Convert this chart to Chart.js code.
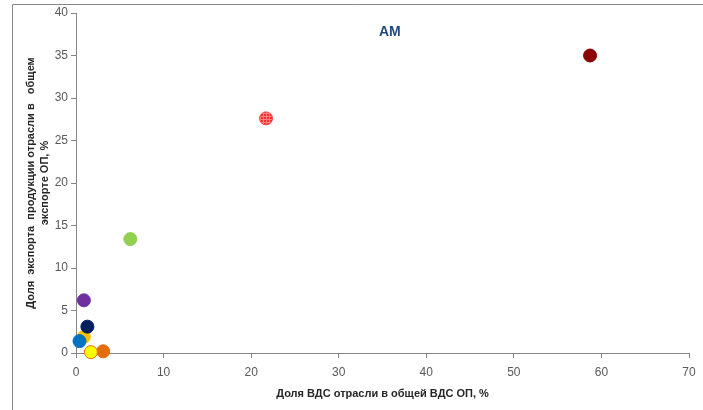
<!DOCTYPE html>
<html>
<head>
<meta charset="utf-8">
<script src="https://cdn.jsdelivr.net/npm/chart.js@4"></script>
<style>
  html, body { margin: 0; padding: 0; background: #fff; }
  #wrap { width: 703px; height: 410px; position: relative; }
</style>
</head>
<body>
<div id="wrap"><canvas id="am-chart" width="703" height="410"></canvas></div>
<script>
// share of sector GVA in total GVA, % (x) and share of sector exports, % (y)
const vdsShare    = [0.9, 1.3, 0.4, 0.9, 6.2, 21.7, 58.7, 3.1, 1.7];
const exportShare = [1.9, 3.1, 1.4, 6.2, 13.4, 27.6, 35.0, 0.2, 0.1];
const fillColors  = ['#FFC000', '#002060', '#0070C0', '#7030A0', '#92D050', 'pattern', '#8B0000', '#E46C0A', '#FFFF00'];
const edgeColors  = ['#FFC000', '#002060', '#0070C0', '#7030A0', '#92D050', '#FF4040', '#8B0000', '#E46C0A', '#E46C0A'];
const xTicks = [0, 10, 20, 30, 40, 50, 60, 70];
const yTicks = [0, 5, 10, 15, 20, 25, 30, 35, 40];

// dotted red fill for the one patterned marker
function redPattern() {
  const c = document.createElement('canvas');
  c.width = 3; c.height = 3;
  const g = c.getContext('2d');
  g.fillStyle = '#FF8080';
  g.fillRect(0, 0, 3, 3);
  g.fillStyle = '#FF3030';
  g.fillRect(0, 0, 2, 2);
  return g.createPattern(c, 'repeat');
}

const frameAndTitle = {
  id: 'frameAndTitle',
  afterDraw: (chart) => {
    const {ctx, chartArea} = chart;
    ctx.save();
    ctx.strokeStyle = '#868686';
    ctx.lineWidth = 1;
    ctx.beginPath();
    ctx.moveTo(12.5, 410);
    ctx.lineTo(12.5, 4.5);
    ctx.lineTo(703, 4.5);
    ctx.stroke();
    ctx.font = 'bold 14px "Liberation Sans", sans-serif';
    ctx.fillStyle = '#1F497D';
    ctx.textAlign = 'center';
    ctx.textBaseline = 'middle';
    ctx.fillText('АМ', chartArea.left + (chartArea.right - chartArea.left) * 0.512, chartArea.top + 19);
    ctx.restore();
  }
};

const ctx = document.getElementById('am-chart').getContext('2d');
const pts = vdsShare.map((v, i) => ({ x: v, y: exportShare[i] }));

new Chart(ctx, {
  type: 'scatter',
  data: {
    datasets: [{
      data: pts,
      backgroundColor: fillColors.map(c => c === 'pattern' ? redPattern() : c),
      borderColor: edgeColors,
      borderWidth: 1,
      pointRadius: 6.5,
      pointHoverRadius: 6.5,
      clip: false
    }]
  },
  options: {
    responsive: false,
    animation: false,
    layout: { padding: { left: 24, top: 13, right: 14, bottom: 5 } },
    plugins: {
      legend: { display: false },
      tooltip: { enabled: false }
    },
    scales: {
      x: {
        type: 'linear',
        min: 0, max: 70,
        afterBuildTicks: (s) => { s.ticks = xTicks.map(v => ({ value: v })); },
        afterFit: (s) => { s.height = 52; },
        border: { color: '#868686' },
        grid: { drawOnChartArea: false, drawTicks: true, tickLength: 5, color: '#868686' },
        ticks: { color: '#595959', font: { family: '"Liberation Sans", sans-serif', size: 12 }, padding: 7 },
        title: {
          display: true,
          text: 'Доля ВДС отрасли в общей ВДС ОП, %',
          color: '#262626',
          font: { family: '"Liberation Sans", sans-serif', size: 11, weight: 'bold' },
          padding: { top: 3 }
        }
      },
      y: {
        min: 0, max: 40,
        afterBuildTicks: (s) => { s.ticks = yTicks.map(v => ({ value: v })); },
        afterFit: (s) => { s.width = 52; },
        border: { color: '#868686' },
        grid: { drawOnChartArea: false, drawTicks: true, tickLength: 5, color: '#868686' },
        ticks: { color: '#595959', font: { family: '"Liberation Sans", sans-serif', size: 12 }, padding: 3 },
        title: {
          display: true,
          text: ['Доля  экспорта  продукции отрасли в   общем', 'экспорте ОП, %'],
          color: '#262626',
          font: { family: '"Liberation Sans", sans-serif', size: 11, weight: 'bold', lineHeight: 1.25 },
          padding: { top: 0, bottom: 4 }
        }
      }
    }
  },
  plugins: [frameAndTitle]
});
</script>
</body>
</html>
